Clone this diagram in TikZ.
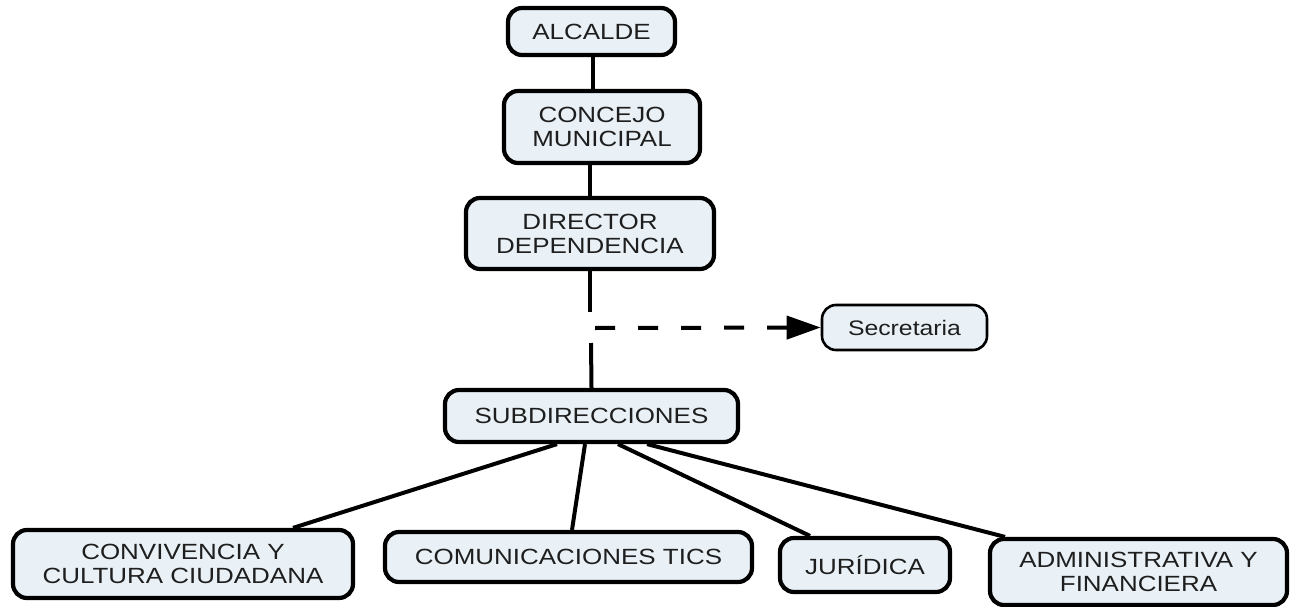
\documentclass[tikz,border=0pt]{standalone}
\usepackage{fontspec}
\setmainfont{Liberation Sans}[FakeStretch=1.18]
\usetikzlibrary{arrows.meta,calc}
\definecolor{boxfill}{RGB}{233,241,246}
\definecolor{txt}{RGB}{30,30,30}
\tikzset{
  orgbox/.style={draw=black, line width=4.2pt, fill=boxfill, rounded corners=14pt,
    align=center, inner sep=0pt, font=\fontsize{22}{24}\selectfont, text=txt},
  conn/.style={line width=4pt, black},
}
\begin{document}
\begin{tikzpicture}[x=1pt,y=-1pt]
\useasboundingbox (0,0) rectangle (1295,607);
\node[orgbox, minimum width=167pt, minimum height=47pt] (alc) at (591.5,31.5) {ALCALDE};
\node[orgbox, minimum width=196pt, minimum height=72pt] (con) at (602,127) {CONCEJO\\MUNICIPAL};
\node[orgbox, minimum width=248pt, minimum height=71pt] (dir) at (590,233.5) {DIRECTOR\\DEPENDENCIA};
\node[orgbox, line width=2.6pt, minimum width=165pt, minimum height=45pt, font=\fontsize{21}{24}\selectfont] (sec) at (904.5,327.5) {Secretaria};
\node[orgbox, minimum width=293pt, minimum height=52pt] (sub) at (591.5,416) {SUBDIRECCIONES};
\node[orgbox, minimum width=340pt, minimum height=68pt] (conv) at (183,564) {CONVIVENCIA Y\\CULTURA CIUDADANA};
\node[orgbox, minimum width=367pt, minimum height=50pt] (com) at (568.5,557) {COMUNICACIONES TICS};
\node[orgbox, minimum width=170pt, minimum height=54pt] (jur) at (865,565) {JUR\'IDICA};
\node[orgbox, minimum width=297pt, minimum height=66pt] (adm) at (1138.5,572) {ADMINISTRATIVA Y\\FINANCIERA};

\draw[conn] ($(alc.south)+(1.5,0)$) -- ($(con.north)+(-9,0)$);
\draw[conn] ($(con.south)+(-12,0)$) -- (dir.north);
\coordinate (ga) at (590,312);
\coordinate (gb) at (591,343);
\coordinate (dstart) at (595,328);
\draw[conn] (dir.south) -- (ga);
\draw[conn] (gb) -- (sub.north);
\draw[conn, dash pattern=on 20pt off 23pt, -{Triangle[length=34pt,width=23pt]}] (dstart) -- (sec.west);

\draw[conn] ($(sub.south)+(-34.5,0)$) -- ($(conv.north)+(110,0)$);
\draw[conn] ($(sub.south)+(-6.5,0)$) -- ($(com.north)+(3.5,0)$);
\draw[conn] ($(sub.south)+(26.5,0)$) -- ($(jur.north)+(-55,0)$);
\draw[conn] ($(sub.south)+(55.5,0)$) -- ($(adm.north)+(-133.5,0)$);
\end{tikzpicture}
\end{document}
